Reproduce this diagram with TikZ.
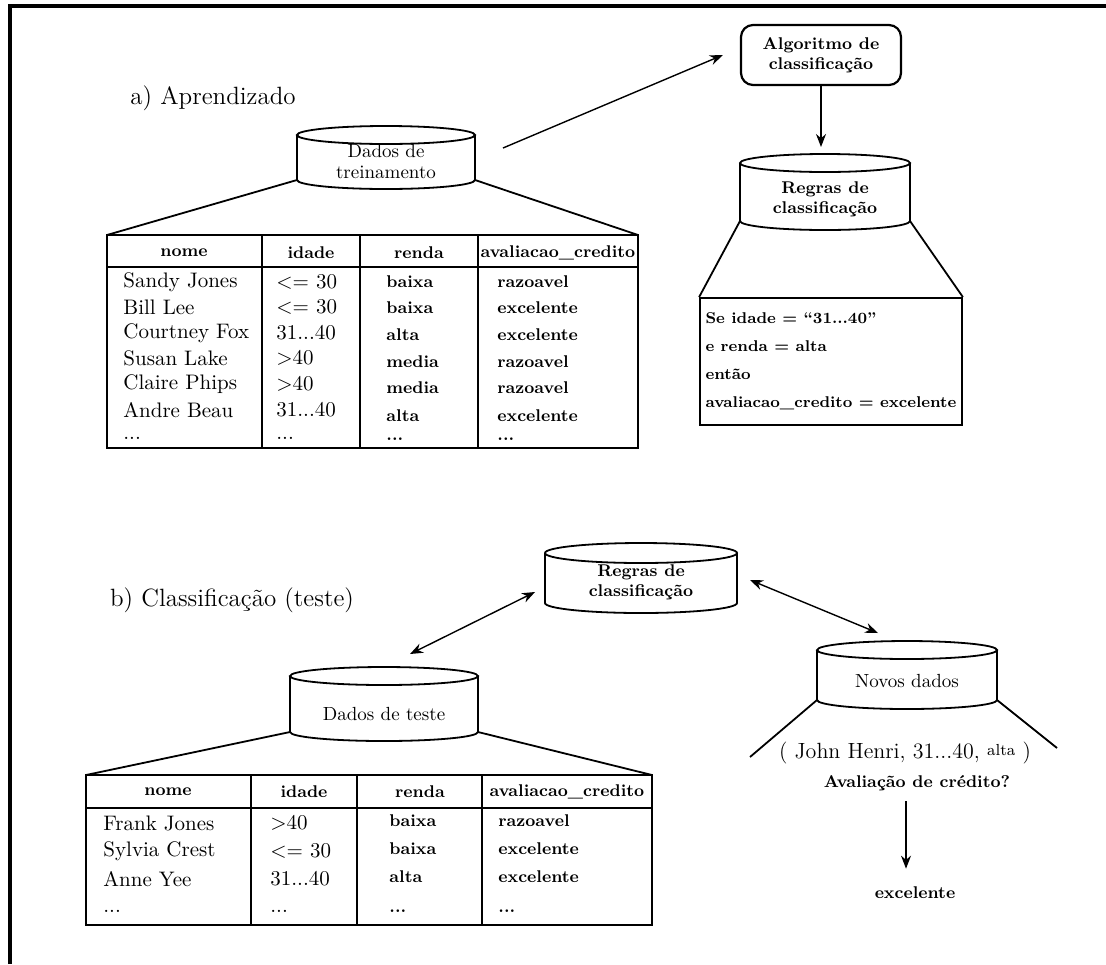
\documentclass[tikz,border=0pt]{standalone}
\usepackage{tikz}
\usetikzlibrary{arrows.meta,calc}
\tikzset{
  >={Stealth[length=6.5pt,width=5pt]},
  rim/.style={line width=0.9pt},
  frameline/.style={line width=2pt},
  oneway/.style={line width=0.7pt,->},
  bothways/.style={line width=0.7pt,<->},
  headline/.style={font=\fontsize{12.5}{14}\selectfont},
  drumtext/.style={font=\fontsize{9.5}{10.5}\selectfont,align=center,inner sep=0pt},
  drumbold/.style={font=\bfseries\fontsize{8.5}{10}\selectfont,align=center,inner sep=0pt},
  colhead/.style={font=\bfseries\fontsize{8.5}{10}\selectfont,inner sep=0pt},
  cellA/.style={font=\fontsize{10.5}{12}\selectfont,anchor=west,inner sep=0pt},
  cellB/.style={font=\bfseries\fontsize{8.5}{10}\selectfont,anchor=west,inner sep=0pt},
  tablebox/.style={draw,rim,inner sep=0pt,outer sep=0pt},
  rulebox/.style={draw,rim,font=\bfseries\fontsize{7.8}{14}\selectfont,align=left,inner sep=0pt,
    minimum width=131pt,minimum height=63.5pt},
  algobox/.style={draw,line width=1.1pt,rounded corners=6pt,align=center,
    font=\bfseries\fontsize{8.5}{10}\selectfont,minimum width=80pt,minimum height=30pt},
  plaintext/.style={inner sep=2pt},
}
\newcommand{\tdots}{...}
% drum around a text node: name, half width, rim, top, bottom (px)
\newcommand{\dbdrum}[5]{%
  \coordinate (#1-n) at ([shift={(0,-#4)}]#1.center);
  \coordinate (#1-s) at ([shift={(0,#5)}]#1.center);
  \coordinate (#1-nw) at ([shift={(-#2,0)}]#1-n);
  \coordinate (#1-ne) at ([shift={(#2,0)}]#1-n);
  \coordinate (#1-sw) at ([shift={(-#2,0)}]#1-s);
  \coordinate (#1-se) at ([shift={(#2,0)}]#1-s);
  \draw[rim] (#1-n) ellipse [x radius={#2*0.5pt},y radius={#3*0.5pt}];
  \draw[rim] (#1-nw) -- (#1-sw)
    arc [start angle=180,end angle=360,x radius={#2*0.5pt},y radius={#3*0.5pt}] -- (#1-ne);
}

\begin{document}
\begin{tikzpicture}[x=0.5pt,y=-0.5pt]
\useasboundingbox (0,0) rectangle (1106,964);
\draw[frameline] (10,964) -- (10,6) -- (1106,6);

% a) learning
\node[headline] (heada) at (213,98) {a) Aprendizado};
\node[drumtext] (train) at (386,162) {Dados de\\treinamento};
\dbdrum{train}{89}{9}{27}{18}
\node[algobox] (algo) at (821,55) {Algoritmo de\\classificação};
\node[drumbold] (rules1) at (825,199) {Regras de\\classificação};
\dbdrum{rules1}{85}{9}{36}{22}
\node[rulebox] (rbox) at (831,361.5)
  {Se idade = “31...40”\\e renda = alta\\então\\avaliacao\_credito = excelente};

\coordinate (out1) at (503,148);
\draw[oneway] (out1) -- ([xshift=-8.5pt]algo.west);
\draw[oneway] (algo.south) -- ([yshift=8pt]rules1-n -| algo.south);
\draw[rim] (rules1-sw) -- (rbox.north west);
\draw[rim] (rules1-se) -- (rbox.north east);

\node[tablebox,minimum width=265.5pt,minimum height=106.5pt] (tab1) at (372.5,341.5) {};
\draw[rim] (train-sw) -- (tab1.north west);
\draw[rim] (train-se) -- (tab1.north east);
\draw[rim] (tab1.west |- 0,267) -- (tab1.east |- 0,267);
\foreach \cx in {262,360,478}
  \draw[rim] (\cx,0 |- tab1.north) -- (\cx,0 |- tab1.south);
\node[colhead] (t1h1) at (184,253) {nome};
\node[colhead] (t1h2) at (311,253) {idade};
\node[colhead] (t1h3) at (419,253) {renda};
\node[colhead] (t1h4) at (558,253) {avaliacao\_credito};
\foreach \nm/\ag/\rd/\cr/\ya/\yb [count=\i] in {
  Sandy Jones/{<= 30}/baixa/razoavel/282/282,
  Bill Lee/{<= 30}/baixa/excelente/307/308,
  Courtney Fox/31\tdots40/alta/excelente/333/335,
  Susan Lake/>40/media/razoavel/358/362,
  Claire Phips/>40/media/razoavel/384/388,
  Andre Beau/31\tdots40/alta/excelente/410/416,
  \tdots/\tdots/\tdots/\tdots/438/439}
{
  \node[cellA] (t1n\i) at (123,\ya) {\nm};
  \node[cellA] (t1a\i) at (276,\ya) {\ag};
  \node[cellB] (t1r\i) at (386,\yb) {\rd};
  \node[cellB] (t1c\i) at (497,\yb) {\cr};
}

% b) classification
\node[headline] (headb) at (232,600) {b) Classificação (teste)};
\node[drumbold] (rules2) at (641,582) {Regras de\\classificação};
\dbdrum{rules2}{96}{10}{29}{21}
\node[drumtext] (test) at (384,714) {Dados de teste};
\dbdrum{test}{94}{9}{38}{18}
\node[drumtext] (novos) at (907,681) {Novos dados};
\dbdrum{novos}{90}{9}{31}{19}

\draw[bothways] ([xshift=13pt,yshift=11pt]test-n) -- ([xshift=-5pt,yshift=5.5pt]rules2-sw);
\draw[bothways] ([xshift=6.5pt,yshift=11.5pt]rules2-se) -- ([xshift=-14.5pt,yshift=8.5pt]novos-n);

\node[tablebox,minimum width=283pt,minimum height=75pt] (tab2) at (369,850) {};
\draw[rim] (test-sw) -- (tab2.north west);
\draw[rim] (test-se) -- (tab2.north east);
\draw[rim] (tab2.west |- 0,808) -- (tab2.east |- 0,808);
\foreach \cx in {251,357,482}
  \draw[rim] (\cx,0 |- tab2.north) -- (\cx,0 |- tab2.south);
\node[colhead] (t2h1) at (168,792) {nome};
\node[colhead] (t2h2) at (304,792) {idade};
\node[colhead] (t2h3) at (420,792) {renda};
\node[colhead] (t2h4) at (567,792) {avaliacao\_credito};
\foreach \nm/\ag/\rd/\cr/\ya/\yb [count=\i] in {
  Frank Jones/>40/baixa/razoavel/823/821,
  Sylvia Crest/{<= 30}/baixa/excelente/851/849,
  Anne Yee/31\tdots40/alta/excelente/879/877,
  \tdots/\tdots/\tdots/\tdots/911/911}
{
  \node[cellA] (t2n\i) at (103,\ya) {\nm};
  \node[cellA] (t2a\i) at (270,\ya) {\ag};
  \node[cellB] (t2r\i) at (389,\yb) {\rd};
  \node[cellB] (t2c\i) at (498,\yb) {\cr};
}

\coordinate (nl) at (750,757);
\coordinate (nr) at (1057,748);
\draw[rim] (novos-sw) -- (nl);
\draw[rim] (novos-se) -- (nr);
\node[plaintext,font=\fontsize{11}{13}\selectfont] (john) at (905,753)
  {( John Henri, 31...40, \raisebox{1.5pt}{\fontsize{8}{9}\selectfont alta} )};
\node[plaintext,font=\bfseries\fontsize{8.5}{10}\selectfont] (aval) at (917,783) {Avaliação de crédito?};
\node[plaintext,font=\bfseries\fontsize{8.5}{10}\selectfont] (excel) at (915,893) {excelente};
\draw[oneway] ([xshift=-5.5pt,yshift=-3pt]aval.south) -- ([xshift=-4.5pt,yshift=7pt]excel.north);
\end{tikzpicture}
\end{document}
